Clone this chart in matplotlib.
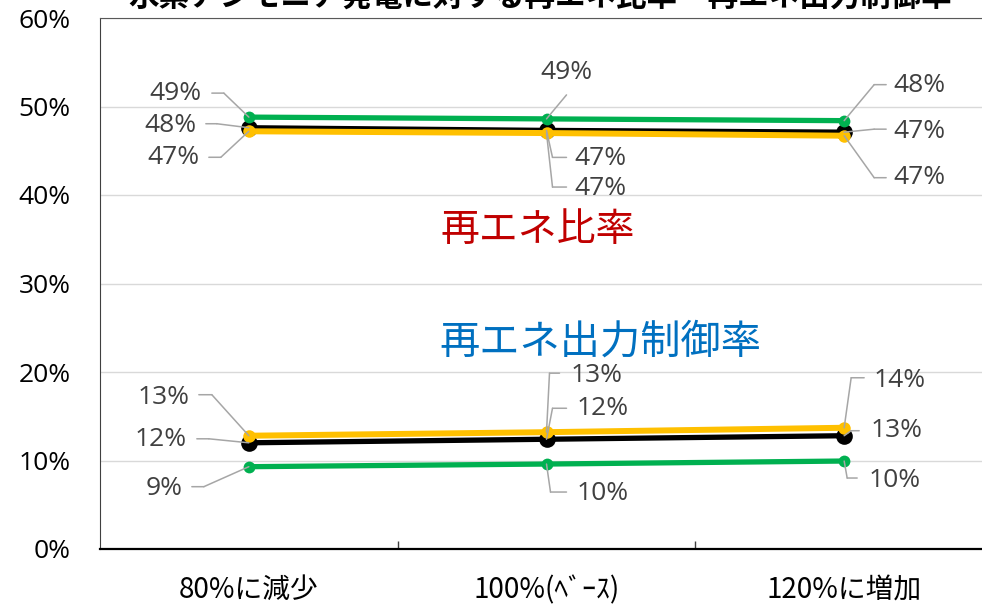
import matplotlib
matplotlib.use("Agg")
import matplotlib.pyplot as plt
from matplotlib.transforms import offset_copy
from matplotlib.ticker import PercentFormatter

plt.rcParams['font.family'] = ['Open Sans', 'Noto Sans CJK JP', 'DejaVu Sans']

# scenarios on the x axis
scenarios = ["80%に減少", "100%(ﾍﾞｰｽ)", "120%に増加"]

# renewable share (upper group)
share_green = [0.488, 0.486, 0.484]
share_black = [0.476, 0.473, 0.471]
share_yellow = [0.472, 0.470, 0.467]

# curtailment rate (lower group)
curt_green = [0.093, 0.096, 0.0994]
curt_black = [0.120, 0.124, 0.128]
curt_yellow = [0.128, 0.132, 0.137]

GREEN = "#00B050"
YELLOW = "#FFC000"
BLACK = "#000000"
LABEL_COLOR = "#404040"
LEADER = "#A6A6A6"

fig = plt.figure(figsize=(9.82, 6.09), dpi=100)
ax = fig.add_axes([100 / 982, 60 / 609, 893 / 982, 531 / 609])

x = list(range(len(scenarios)))

def draw_series(vals, color, lw, ms, z):
    ax.plot(x, vals, color=color, lw=lw, marker='o', ms=ms,
            markeredgewidth=0, zorder=z, solid_capstyle='butt')

for grp in [(share_black, share_yellow, share_green),
            (curt_black, curt_yellow, curt_green)]:
    draw_series(grp[0], BLACK, 3.8, 12, 3)
    draw_series(grp[1], YELLOW, 4.3, 9.0, 4)
    draw_series(grp[2], GREEN, 3.8, 8.5, 5)


def data_label(xi, yi, t_off, e_off, h_off):
    """value label with an elbow leader line (offsets in pixels)"""
    ax.annotate(f"{yi * 100:.0f}%", (xi, yi), xytext=t_off,
                textcoords='offset pixels', ha='center', va='center',
                fontsize=19, color=LABEL_COLOR, zorder=6)
    ax.annotate('', (xi, yi), xytext=e_off, textcoords='offset pixels',
                arrowprops=dict(arrowstyle='-', color=LEADER, lw=1.1,
                                shrinkA=0, shrinkB=0), zorder=6)
    if h_off != e_off:
        tr = offset_copy(ax.transData, fig=fig, x=e_off[0], y=e_off[1], units='dots')
        ax.annotate('', (xi, yi), xycoords=tr,
                    xytext=(h_off[0] - e_off[0], h_off[1] - e_off[1]),
                    textcoords='offset pixels',
                    arrowprops=dict(arrowstyle='-', color=LEADER, lw=1.1,
                                    shrinkA=0, shrinkB=0), zorder=6)

# upper group labels
data_label(0, share_green[0], (-73, 24), (-25, 24), (-37, 24))
data_label(0, share_black[0], (-78, 2), (-32, 4), (-43, 4))
data_label(0, share_yellow[0], (-75, -26), (-28, -26), (-40, -26))
data_label(1, share_green[1], (20, 46), (20, 24), (20, 24))
data_label(1, share_black[1], (54, -28), (6, -27), (20, -27))
data_label(1, share_yellow[1], (54, -55), (6, -54), (20, -54))
data_label(2, share_green[2], (75, 35), (30, 36), (42, 36))
data_label(2, share_black[2], (75, 1), (30, 3), (42, 3))
data_label(2, share_yellow[2], (75, -42), (30, -42), (42, -42))

# lower group labels
data_label(0, curt_yellow[0], (-85, 38), (-37, 41), (-50, 41))
data_label(0, curt_black[0], (-88, 3), (-40, 4), (-52, 4))
data_label(0, curt_green[0], (-85, -22), (-45, -20), (-57, -20))
data_label(1, curt_yellow[1], (50, 57), (3, 59), (13, 59))
data_label(1, curt_black[1], (56, 31), (6, 31), (20, 31))
data_label(1, curt_green[1], (56, -29), (4, -28), (20, -28))
data_label(2, curt_yellow[2], (55, 47), (7, 50), (20, 50))
data_label(2, curt_black[2], (52, 5), (7, 5), (15, 5))
data_label(2, curt_green[2], (50, -19), (3, -17), (13, -17))

# axes styling
ax.set_xlim(-0.5, 2.5)
ax.set_ylim(0, 0.6)
ax.set_yticks([i / 10 for i in range(7)])
ax.yaxis.set_major_formatter(PercentFormatter(1.0, decimals=0))
ax.grid(axis='y', color='#D9D9D9', lw=1)
ax.set_axisbelow(True)
ax.tick_params(axis='y', length=0, pad=21, labelsize=19, labelcolor='#000000')

ax.set_xticks(x)
ax.set_xticklabels(scenarios, family=['Noto Sans CJK JP'], fontsize=20)
ax.set_xticks([0.5, 1.5], minor=True)
ax.tick_params(axis='x', which='major', length=0, pad=19)
ax.tick_params(axis='x', which='minor', direction='in', length=6, width=1, color='#404040')

ax.spines['right'].set_visible(False)
ax.spines['left'].set_color('#404040')
ax.spines['top'].set_color('#595959')
ax.spines['bottom'].set_linewidth(1.6)

# group captions
ax.text(0.97, 0.361, "再エネ比率", ha='center', va='center', color='#C00000',
        fontsize=28, family=['Noto Sans CJK JP'])
ax.text(1.18, 0.234, "再エネ出力制御率", ha='center', va='center', color='#0070C0',
        fontsize=29, family=['Noto Sans CJK JP'])

fig.text(540 / 982, 1.006, "水素アンモニア発電に対する再エネ比率・再エネ出力制御率",
         ha='center', va='center', fontsize=22, fontweight='bold',
         family=['Noto Sans CJK JP'])

fig.savefig("out.png", dpi=100)
